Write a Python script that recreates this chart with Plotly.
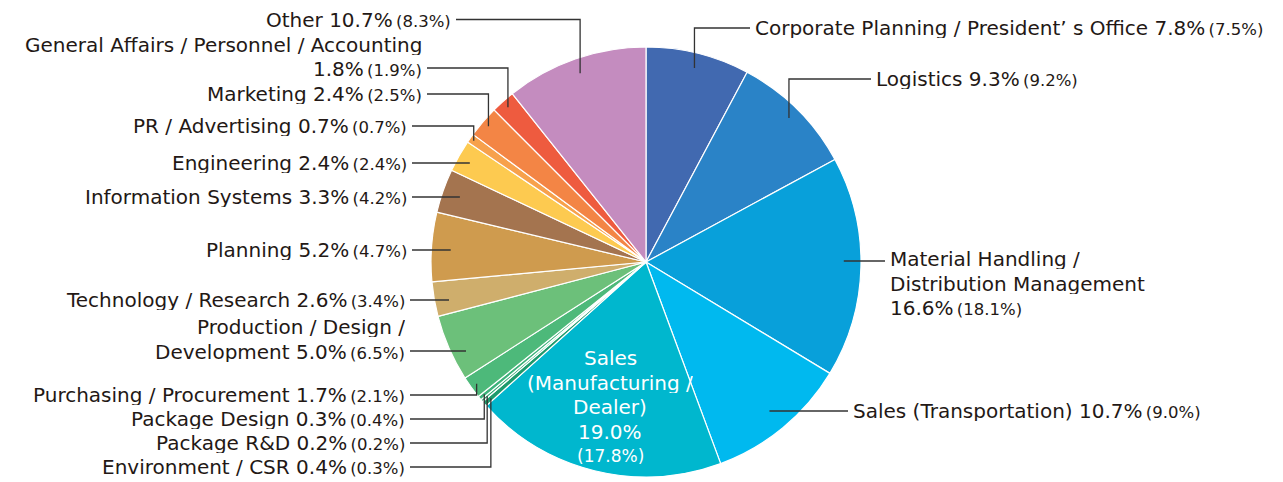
import math
import plotly.graph_objects as go

# ---------------- data ----------------
categories = [
    "Corporate Planning / President’ s Office",
    "Logistics",
    "Material Handling / Distribution Management",
    "Sales (Transportation)",
    "Sales (Manufacturing / Dealer)",
    "Environment / CSR",
    "Package R&D",
    "Package Design",
    "Purchasing / Procurement",
    "Production / Design / Development",
    "Technology / Research",
    "Planning",
    "Information Systems",
    "Engineering",
    "PR / Advertising",
    "Marketing",
    "General Affairs / Personnel / Accounting",
    "Other",
]
current_pct = [7.8, 9.3, 16.6, 10.7, 19.0, 0.4, 0.2, 0.3, 1.7, 5.0,
               2.6, 5.2, 3.3, 2.4, 0.7, 2.4, 1.8, 10.7]
previous_pct = [7.5, 9.2, 18.1, 9.0, 17.8, 0.3, 0.2, 0.4, 2.1, 6.5,
                3.4, 4.7, 4.2, 2.4, 0.7, 2.5, 1.9, 8.3]

# ---------------- styles ----------------
colors = ["#4169B0", "#2A83C7", "#08A0DA", "#00B9EF", "#00B7CE",
          "#1E9A6C", "#2FA872", "#3DB27A", "#4DB97A", "#6CC07A",
          "#CFAE6C", "#CF9B4E", "#A4744F", "#FDCA50", "#F7A14C",
          "#F38545", "#EE5B3F", "#C48CBF"]

W, H = 1283, 482
OFF = 8            # page body margin of the html page
CX, CY, R = 646, 262, 215
FONT = "DejaVu Sans, sans-serif"
MAIN = 20
SMALL = 16.5
TXT = "#231815"
LINE = "#333333"
LH = 24.5          # line height of multi-line labels

# how category names are broken into lines (prefix lines), the last line gets the values
name_lines = {
    2: ["Material Handling /", "Distribution Management", ""],
    9: ["Production / Design /", "Development "],
    16: ["General Affairs / Personnel / Accounting", ""],
}

# label placement: side, leader-line y, leader-line end x at the text, radius fraction, mode, y of first text line
placement = {
    0: ("R", 28, 750, 0.93, "elbow", 28),
    1: ("R", 79, 871, 0.944, "elbow", 79),
    2: ("R", 261, 885, 0.92, "straight", 259),
    3: ("R", 411, 848, 0.90, "straight", 411),
    5: ("L", 467, 410, 0.96, "elbow", 467),
    6: ("L", 443, 410, 0.967, "elbow", 443),
    7: ("L", 419, 410, 0.972, "elbow", 419),
    8: ("L", 395, 410, 0.97, "elbow", 395),
    9: ("L", 351, 410, 0.934, "straight", 327),
    10: ("L", 300, 410, 0.933, "straight", 300),
    11: ("L", 250, 412, 0.91, "straight", 250),
    12: ("L", 197, 412, 0.917, "straight", 197),
    13: ("L", 163, 412, 0.94, "straight", 163),
    14: ("L", 126, 412, 0.98, "elbow", 126),
    15: ("L", 94, 427, 0.967, "elbow", 94),
    16: ("L", 68, 427, 0.965, "elbow", 45),
    17: ("L", 19.5, 456, 0.93, "elbow", 20),
}
inside = {4: dict(frac=0.69, lines=["Sales", "(Manufacturing /", "Dealer)"], y0=358)}


def px(x):
    return (x - OFF) / W


def py(y):
    return 1 - (y - OFF) / H


total = sum(current_pct)
mid_angles = []
cum = 0.0
for v in current_pct:
    mid_angles.append((cum + v / 2) / total * 2 * math.pi)
    cum += v

fig = go.Figure()
fig.add_trace(go.Pie(
    values=current_pct,
    labels=categories,
    sort=False,
    direction="clockwise",
    rotation=0,
    marker=dict(colors=colors, line=dict(color="white", width=1.2)),
    textinfo="none",
    hoverinfo="skip",
    showlegend=False,
    domain=dict(x=[px(CX - R), px(CX + R)], y=[py(CY + R), py(CY - R)]),
))

shapes = []
annotations = []


def add_text(x, y, text, anchor, color=TXT, size=MAIN):
    annotations.append(dict(
        x=px(x), y=py(y), xref="paper", yref="paper", text=text,
        showarrow=False, xanchor=anchor, yanchor="middle", align=anchor,
        borderpad=0, height=20,
        font=dict(family=FONT, size=size, color=color)))


for i, cat in enumerate(categories):
    th = mid_angles[i]
    small = (f"<span style=\"font-size:{SMALL}px\">"
             f"\u2009({previous_pct[i]:.1f}%)</span>")
    if i in inside:
        spec = inside[i]
        cx = CX + spec["frac"] * R * math.sin(th)
        lines = spec["lines"] + [f"{current_pct[i]:.1f}%"]
        y = spec["y0"]
        for ln in lines:
            add_text(cx, y, ln, "center", color="white")
            y += LH
        add_text(cx, y - 0.5, f"({previous_pct[i]:.1f}%)", "center", color="white", size=17)
        continue

    side, ly, lx, frac, mode, ty = placement[i]
    r = frac * R
    if mode == "elbow":
        ax = CX + r * math.sin(th)
        ay = CY - r * math.cos(th)
        path = f"M {px(ax)} {py(ay)} L {px(ax)} {py(ly)} L {px(lx)} {py(ly)}"
    else:
        dy = ly - CY
        dx = math.sqrt(max(r * r - dy * dy, 0))
        ax = CX + dx if side == "R" else CX - dx
        path = f"M {px(ax)} {py(ly)} L {px(lx)} {py(ly)}"
    shapes.append(dict(type="path", path=path, xref="paper", yref="paper",
                       line=dict(color=LINE, width=1.3)))

    lines = list(name_lines.get(i, [cat + " "]))
    lines[-1] = lines[-1] + f"{current_pct[i]:.1f}%" + small
    anchor = "left" if side == "R" else "right"
    tx = lx + 4 if side == "R" else lx - 4
    y = ty
    for ln in lines:
        add_text(tx, y, ln, anchor)
        y += LH

fig.update_layout(
    width=W, height=H,
    margin=dict(l=0, r=0, t=0, b=0),
    paper_bgcolor="white", plot_bgcolor="white",
    shapes=shapes, annotations=annotations,
    showlegend=False,
)
fig.write_html("out.html")
